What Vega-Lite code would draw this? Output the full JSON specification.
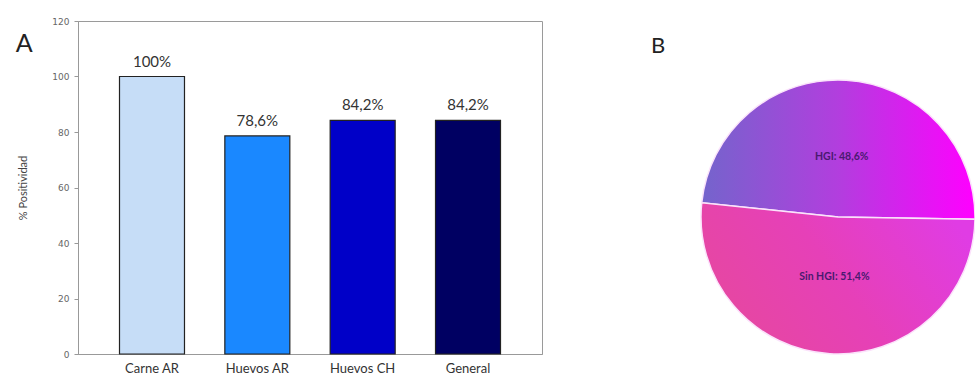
{
  "$schema": "https://vega.github.io/schema/vega-lite/v6.json",
  "background": "white",
  "padding": {"left": 15, "top": 16, "right": 0, "bottom": 0},
  "config": {"font": "Lato", "view": {"stroke": null}},
  "spacing": 108,
  "hconcat": [
    {
      "title": {"text": "A", "anchor": "start", "frame": "bounds", "fontSize": 25, "fontWeight": "normal", "color": "#222", "offset": 2, "dx": -2, "dy": 42},
      "width": 464,
      "height": 333,
      "view": {"stroke": "#9a9a9a", "strokeWidth": 1},
      "data": {
        "values": [
          {"grupo": "Carne AR", "positividad": 100, "etiqueta": "100%"},
          {"grupo": "Huevos AR", "positividad": 78.6, "etiqueta": "78,6%"},
          {"grupo": "Huevos CH", "positividad": 84.2, "etiqueta": "84,2%"},
          {"grupo": "General", "positividad": 84.2, "etiqueta": "84,2%"}
        ]
      },
      "encoding": {
        "x": {
          "field": "grupo", "type": "nominal", "sort": null,
          "scale": {"paddingInner": 0.383, "paddingOuter": 0.394},
          "axis": {"title": null, "labelAngle": 0, "labelFontSize": 13, "labelColor": "#333", "ticks": false, "domainColor": "#999", "labelPadding": 8}
        },
        "y": {
          "field": "positividad", "type": "quantitative",
          "scale": {"domain": [0, 120]},
          "axis": {"values": [0, 20, 40, 60, 80, 100, 120], "title": "% Positividad", "titleFontSize": 11, "titleFontWeight": "normal", "titleColor": "#444", "labelFont": "DejaVu Sans", "labelFontSize": 9, "labelColor": "#666", "tickSize": 4, "tickColor": "#999", "domainColor": "#999", "grid": false, "labelPadding": 5, "titlePadding": 23}
        }
      },
      "layer": [
        {
          "mark": {"type": "bar", "stroke": "#222", "strokeWidth": 1.2},
          "encoding": {
            "color": {
              "field": "grupo", "type": "nominal", "legend": null,
              "scale": {"domain": ["Carne AR", "Huevos AR", "Huevos CH", "General"], "range": ["#c6ddf7", "#1a88ff", "#0000c8", "#000062"]}
            }
          }
        },
        {
          "mark": {"type": "text", "baseline": "bottom", "dy": -7, "fontSize": 15, "color": "#333"},
          "encoding": {"text": {"field": "etiqueta"}}
        }
      ]
    },
    {
      "spacing": 0,
      "vconcat": [
        {
          "width": 274,
          "height": 14,
          "mark": {"type": "rule", "opacity": 0},
          "encoding": {}
        },
        {
          "title": {"text": "B", "anchor": "start", "frame": "group", "fontSize": 22, "fontWeight": "normal", "color": "#222", "offset": 19, "dx": -50},
          "width": 274,
          "height": 274,
          "data": {
            "values": [
              {"grupo": "HGI", "pct": 48.6, "etiqueta": "HGI: 48,6%"},
              {"grupo": "Sin HGI", "pct": 51.4, "etiqueta": "Sin HGI: 51,4%"}
            ]
          },
          "encoding": {
            "theta": {"field": "pct", "type": "quantitative", "stack": true, "scale": {"range": [4.817, 11.1]}}
          },
          "layer": [
            {
              "mark": {"type": "arc", "radius": 137, "stroke": "#fbe3fb", "strokeWidth": 1.5},
              "encoding": {
                "fill": {
                  "condition": {
                    "test": "datum.grupo === 'HGI'",
                    "value": {"gradient": "linear", "x1": 0, "y1": 0.5, "x2": 1, "y2": 0.5, "stops": [{"offset": 0, "color": "#7464cc"}, {"offset": 0.5, "color": "#b23ede"}, {"offset": 1, "color": "#ff00ff"}]}
                  },
                  "value": {"gradient": "linear", "x1": 0, "y1": 0.7, "x2": 1, "y2": 0.3, "stops": [{"offset": 0, "color": "#e6489e"}, {"offset": 0.5, "color": "#e640b8"}, {"offset": 1, "color": "#e03ce4"}]}
                }
              }
            },
            {
              "mark": {"type": "text", "radius": 60, "fontSize": 10.5, "fontWeight": "bold", "color": "#4a1a70"},
              "encoding": {"text": {"field": "etiqueta"}}
            }
          ]
        }
      ]
    }
  ]
}
